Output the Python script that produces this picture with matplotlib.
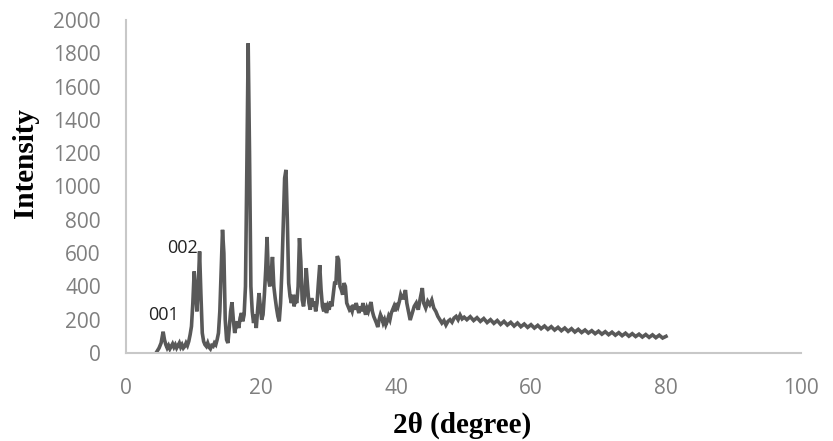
import matplotlib
matplotlib.use("Agg")
import matplotlib.pyplot as plt

two_theta = [
    4.6, 4.9, 5.2, 5.5, 5.7, 5.9, 6.1, 6.3, 6.5, 6.7, 6.9, 7.1, 7.3, 7.5, 7.7, 7.9,
    8.1, 8.3, 8.5, 8.7, 8.9, 9.1, 9.3, 9.5, 9.7, 9.9, 10.1, 10.3, 10.5, 10.7, 10.9,
    11.1, 11.3, 11.5, 11.7, 11.9, 12.1, 12.3, 12.5, 12.7, 12.9, 13.1, 13.3, 13.5,
    13.7, 13.9, 14.1, 14.3, 14.5, 14.7, 14.9, 15.1, 15.3, 15.5, 15.7, 15.9, 16.1,
    16.3, 16.5, 16.7, 16.9, 17.1, 17.3, 17.5, 17.7, 17.9, 18.1, 18.3, 18.5, 18.7,
    18.9, 19.1, 19.3, 19.5, 19.7, 19.9, 20.1, 20.3, 20.5, 20.7, 20.9, 21.1, 21.3,
    21.5, 21.7, 21.9, 22.1, 22.3, 22.5, 22.7, 22.9, 23.1, 23.3, 23.5, 23.7, 23.9,
    24.1, 24.3, 24.5, 24.7, 24.9, 25.1, 25.3, 25.5, 25.7, 25.9, 26.1, 26.3, 26.5,
    26.7, 26.9, 27.1, 27.3, 27.5, 27.7, 27.9, 28.1, 28.3, 28.5, 28.7, 28.9, 29.1,
    29.3, 29.5, 29.7, 29.9, 30.1, 30.3, 30.5, 30.7, 30.9, 31.1, 31.3, 31.5, 31.7,
    31.9, 32.1, 32.3, 32.5, 32.7, 32.9, 33.1, 33.3, 33.5, 33.7, 33.9, 34.1, 34.3,
    34.5, 34.7, 34.9, 35.1, 35.3, 35.5, 35.7, 35.9, 36.1, 36.3, 36.5, 36.7, 36.9,
    37.1, 37.3, 37.5, 37.7, 37.9, 38.1, 38.3, 38.5, 38.7, 38.9, 39.1, 39.3, 39.5,
    39.7, 39.9, 40.1, 40.3, 40.5, 40.7, 40.9, 41.1, 41.4, 41.6, 41.9, 42.1, 42.4,
    42.7, 43.0, 43.3, 43.6, 43.9, 44.1, 44.4, 44.7, 45.0, 45.3, 45.6, 45.9, 46.2,
    46.5, 46.8, 47.1, 47.4, 47.7, 48.0, 48.3, 48.6, 48.9, 49.2, 49.5, 49.8, 50.1,
    50.5, 51.0, 51.5, 52.0, 52.5, 53.0, 53.5, 54.0, 54.5, 55.0, 55.5, 56.0, 56.5,
    57.0, 57.5, 58.0, 58.5, 59.0, 59.5, 60.0, 60.5, 61.0, 61.5, 62.0, 62.5, 63.0,
    63.5, 64.0, 64.5, 65.0, 65.5, 66.0, 66.5, 67.0, 67.5, 68.0, 68.5, 69.0, 69.5,
    70.0, 70.5, 71.0, 71.5, 72.0, 72.5, 73.0, 73.5, 74.0, 74.5, 75.0, 75.5, 76.0,
    76.5, 77.0, 77.5, 78.0, 78.5, 79.0, 79.5, 80.0,
]

intensity = [
    10, 30, 60, 128, 80, 50, 30, 45, 25, 40, 55, 35, 50, 30, 45, 60,
    35, 50, 30, 40, 60, 45, 70, 110, 160, 300, 490, 380, 250, 400, 610,
    350, 120, 70, 50, 40, 60, 35, 25, 45, 40, 60, 50, 80,
    120, 250, 500, 740, 600, 200, 80, 60, 150, 250, 305, 200, 120,
    160, 190, 150, 210, 240, 190, 230, 400, 1100, 1860, 1200, 400, 250,
    180, 230, 150, 260, 360, 280, 200, 230, 350, 500, 697, 450, 400,
    480, 577, 400, 330, 270, 220, 190, 300, 500, 780, 1050, 1100, 800,
    420, 340, 300, 350, 280, 320, 300, 400, 690, 550, 320, 280, 350,
    510, 400, 300, 260, 330, 280, 310, 250, 300, 420, 528, 380, 280,
    250, 300, 240, 280, 260, 310, 280, 350, 420, 420, 582, 560, 400,
    380, 350, 420, 400, 300, 280, 260, 270, 250, 290, 260, 300, 270,
    240, 280, 250, 300, 260, 230, 270, 250, 280, 306, 250, 220, 200,
    180, 156, 200, 230, 210, 180, 200, 170, 190, 220, 200, 240, 260,
    280, 250, 300, 280, 310, 350, 330, 330, 378, 300, 240, 198, 240,
    280, 300, 260, 330, 390, 300, 270, 310, 290, 318, 270, 250, 220,
    200, 180, 195, 168, 190, 200, 185, 210, 220, 200, 228, 205, 215,
    200, 218, 195, 212, 190, 207, 183, 200, 178, 195, 172, 190, 168,
    184, 162, 180, 158, 174, 154, 170, 150, 166, 146, 162, 142, 158,
    138, 154, 134, 150, 130, 146, 126, 142, 123, 138, 120, 134, 116,
    131, 113, 128, 110, 125, 107, 122, 104, 119, 101, 116, 99, 113,
    96, 111, 94, 109, 92, 107, 90, 100,
]

x_ticks = [0, 20, 40, 60, 80, 100]
y_ticks = [0, 200, 400, 600, 800, 1000, 1200, 1400, 1600, 1800, 2000]
peak_labels = ["001", "002"]
peak_label_pos = [(5.55, 228), (8.4, 630)]

fig = plt.figure(figsize=(8.33, 4.41), dpi=100)
ax = fig.add_axes([126 / 833, 1 - 353 / 441, 675 / 833, 333 / 441])

ax.plot(two_theta, intensity, color="#595959", linewidth=2.6, solid_joinstyle="miter")

ax.set_xlim(0, 100)
ax.set_ylim(0, 2000)
ax.set_xticks(x_ticks)
ax.set_yticks(y_ticks)
ax.tick_params(length=0, pad=18, labelsize=15, labelcolor="#7f7f7f")
for lab in ax.get_xticklabels() + ax.get_yticklabels():
    lab.set_family("Open Sans")

for s in ["top", "right"]:
    ax.spines[s].set_visible(False)
for s in ["left", "bottom"]:
    ax.spines[s].set_color("#c8c8c8")
    ax.spines[s].set_linewidth(1.5)

for txt, (px, py) in zip(peak_labels, peak_label_pos):
    ax.text(px, py, txt, ha="center", va="center", fontsize=13,
            family="Open Sans", color="#222222")

fig.text(462 / 833, 1 - 425 / 441, "2θ (degree)", ha="center", va="center",
         fontsize=21, fontweight="bold", family="Liberation Serif")
fig.text(25 / 833, 1 - 163 / 441, "Intensity", ha="center", va="center",
         rotation=90, fontsize=21, fontweight="bold", family="Liberation Serif")

fig.savefig("out.png", dpi=100)
